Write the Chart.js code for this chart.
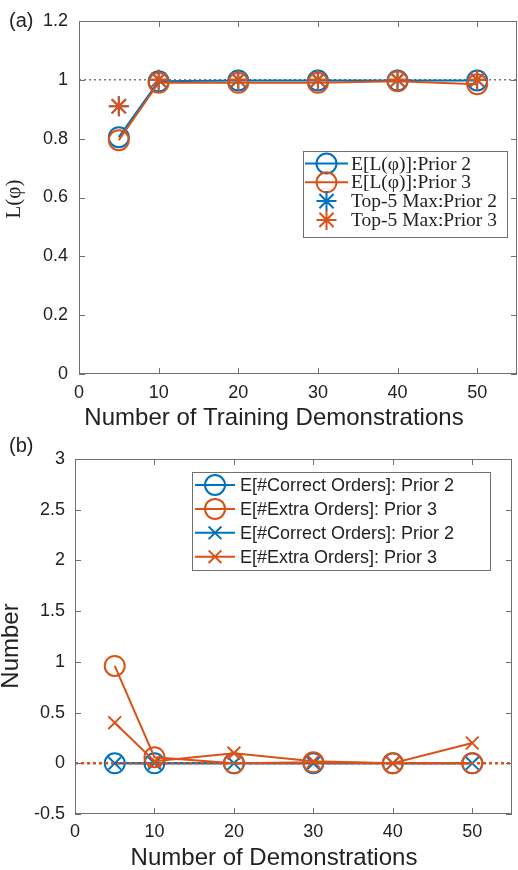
<!DOCTYPE html>
<html>
<head>
<meta charset="utf-8">
<script src="https://cdn.jsdelivr.net/npm/chart.js@4.4.0/dist/chart.umd.min.js"></script>
<style>
  body { margin: 0; width: 518px; height: 870px; background: #fff; overflow: hidden; position: relative; }
  canvas { position: absolute; left: 0; }
</style>
</head>
<body>
<canvas id="chartA" width="518" height="430" style="top:0"></canvas>
<canvas id="chartB" width="518" height="440" style="top:430px"></canvas>
<script>
// Panel (a) data
const demosA = [5, 10, 20, 30, 40, 50];
const expPrior2 = [0.805, 0.995, 0.998, 0.998, 0.998, 0.998];
const expPrior3 = [0.795, 0.99, 0.99, 0.99, 0.995, 0.985];
const top5Prior2 = [0.91, 1, 1, 1, 1, 1];
const top5Prior3 = [0.91, 1, 1, 1, 1, 1];
const refLevelA = 1;
const xTicksA = [0, 10, 20, 30, 40, 50];
const yTicksA = [0, 0.2, 0.4, 0.6, 0.8, 1, 1.2];

// Panel (b) data
const demosB = [5, 10, 20, 30, 40, 50];
const correctCircPrior2 = [0, 0, 0, 0, 0, 0];
const extraCircPrior3 = [0.96, 0.06, 0, 0.01, 0, 0];
const correctCrossPrior2 = [0, 0, 0, 0, 0, 0];
const extraCrossPrior3 = [0.40, 0.02, 0.10, 0.02, 0, 0.20];
const refLevelB = 0;
const xTicksB = [0, 10, 20, 30, 40, 50];
const yTicksB = [-0.5, 0, 0.5, 1, 1.5, 2, 2.5, 3];

const BLUE = '#0072BD';
const ORANGE = '#D95319';
const TEXT = '#222222';
const AXIS = '#707070';
const SANS = "'Liberation Sans', Arial, sans-serif";
const SERIF = "'Liberation Serif', 'DejaVu Serif', serif";

const toPts = (xs, ys) => xs.map((x, i) => ({ x: x, y: ys[i] }));

// draw a marker the way the chart does (legend use)
function drawMarker(ctx, style, r, x, y) {
  ctx.beginPath();
  if (style === 'circle') {
    ctx.arc(x, y, r, 0, Math.PI * 2);
  } else {
    const d = r * Math.SQRT1_2;
    if (style === 'star') {
      ctx.moveTo(x - r, y); ctx.lineTo(x + r, y);
      ctx.moveTo(x, y - r); ctx.lineTo(x, y + r);
    }
    ctx.moveTo(x - d, y - d); ctx.lineTo(x + d, y + d);
    ctx.moveTo(x - d, y + d); ctx.lineTo(x + d, y - d);
  }
  ctx.stroke();
}

// box, inward ticks, axis titles, panel label and legend
const framePlugin = {
  id: 'frame',
  afterDatasetsDraw(chart, args, opts) {
    const { ctx, chartArea: a } = chart;
    const xs = chart.scales.x, ys = chart.scales.y;
    ctx.save();
    ctx.strokeStyle = AXIS;
    ctx.lineWidth = 1;
    ctx.strokeRect(a.left + 0.5, a.top + 0.5, a.right - a.left - 1, a.bottom - a.top - 1);
    ctx.beginPath();
    xs.ticks.forEach(t => {
      const px = Math.round(xs.getPixelForValue(t.value)) + 0.5;
      ctx.moveTo(px, a.bottom); ctx.lineTo(px, a.bottom - 6);
      ctx.moveTo(px, a.top); ctx.lineTo(px, a.top + 6);
    });
    ys.ticks.forEach(t => {
      const py = Math.round(ys.getPixelForValue(t.value)) + 0.5;
      ctx.moveTo(a.left, py); ctx.lineTo(a.left + 6, py);
      ctx.moveTo(a.right, py); ctx.lineTo(a.right - 6, py);
    });
    ctx.stroke();

    ctx.fillStyle = TEXT;
    ctx.textBaseline = 'middle';
    ctx.textAlign = 'left';
    ctx.font = '20px ' + SANS;
    ctx.fillText(opts.label, opts.labelX, opts.labelY);

    // axis titles
    ctx.textAlign = 'center';
    ctx.font = '24px ' + SANS;
    ctx.fillText(opts.xTitle, opts.xTitleX, opts.xTitleY);
    ctx.save();
    ctx.translate(opts.yTitleX, opts.yTitleY);
    ctx.rotate(-Math.PI / 2);
    ctx.font = opts.yTitleFont;
    ctx.fillText(opts.yTitle, 0, 0);
    ctx.restore();

    const lg = opts.legend;
    ctx.textAlign = 'left';
    ctx.fillStyle = '#fff';
    ctx.fillRect(lg.x, lg.y, lg.w, lg.h);
    ctx.strokeStyle = AXIS;
    ctx.strokeRect(lg.x + 0.5, lg.y + 0.5, lg.w, lg.h);
    lg.items.forEach((di, i) => {
      const ds = chart.data.datasets[di];
      const ry = lg.rowY + i * lg.rowGap;
      ctx.strokeStyle = ds.borderColor;
      ctx.lineWidth = 2;
      if (ds.showLine) {
        ctx.beginPath();
        ctx.moveTo(lg.lineX1, ry); ctx.lineTo(lg.lineX2, ry);
        ctx.stroke();
      }
      drawMarker(ctx, ds.pointStyle, ds.pointRadius, (lg.lineX1 + lg.lineX2) / 2, ry);
      ctx.fillStyle = TEXT;
      ctx.font = lg.font;
      ctx.fillText(ds.label, lg.textX, ry + 1);
    });
    ctx.restore();
  }
};

function makeAxes(xTicks, yTicks, cfg) {
  return {
    x: {
      type: 'linear', min: 0, max: 55,
      afterBuildTicks: s => { s.ticks = xTicks.map(v => ({ value: v })); },
      afterFit: s => { s.height = cfg.xHeight; s.paddingLeft = 0; s.paddingRight = 0; },
      grid: { display: false, drawTicks: false },
      border: { display: false },
      ticks: { font: { family: SANS, size: 18 }, color: TEXT, padding: cfg.xPad, maxRotation: 0, autoSkip: false,
        callback: v => String(v) }
    },
    y: {
      type: 'linear', min: yTicks[0], max: yTicks[yTicks.length - 1],
      afterBuildTicks: s => { s.ticks = yTicks.map(v => ({ value: v })); },
      afterFit: s => { s.width = cfg.yWidth; s.paddingTop = 0; s.paddingBottom = 0; },
      grid: { display: false, drawTicks: false },
      border: { display: false },
      ticks: { font: { family: SANS, size: 18 }, color: TEXT, padding: cfg.yPad, autoSkip: false,
        callback: v => String(v) }
    }
  };
}

const lineSet = (label, xs, ys, color, style, radius, showLine, order) => ({
  label: label,
  data: toPts(xs, ys),
  borderColor: color,
  backgroundColor: 'rgba(0,0,0,0)',
  pointStyle: style,
  pointRadius: radius,
  pointBorderWidth: 2,
  pointBackgroundColor: 'rgba(0,0,0,0)',
  borderWidth: 2,
  showLine: showLine,
  order: order
});

const refSet = (level, color, width, dash, order) => ({
  label: 'ref',
  data: [{ x: 0, y: level }, { x: 55, y: level }],
  borderColor: color,
  borderWidth: width,
  borderDash: dash,
  pointRadius: 0,
  showLine: true,
  order: order
});

new Chart(document.getElementById('chartA'), {
  type: 'scatter',
  data: {
    datasets: [
      lineSet('E[L(φ)]:Prior 2', demosA, expPrior2, BLUE, 'circle', 10, true, 4),
      lineSet('E[L(φ)]:Prior 3', demosA, expPrior3, ORANGE, 'circle', 10, true, 3),
      lineSet('Top-5 Max:Prior 2', demosA, top5Prior2, BLUE, 'star', 10, false, 2),
      lineSet('Top-5 Max:Prior 3', demosA, top5Prior3, ORANGE, 'star', 10, false, 1),
      refSet(refLevelA, '#333', 1, [2, 3], 5)
    ]
  },
  options: {
    responsive: false,
    animation: false,
    layout: { autoPadding: false, padding: { top: 21, right: 1, left: 0, bottom: 0 } },
    scales: makeAxes(xTicksA, yTicksA, { xHeight: 56, xPad: 8, yWidth: 79, yPad: 11 }),
    plugins: {
      legend: { display: false },
      tooltip: { enabled: false },
      frame: {
        label: '(a)', labelX: 9, labelY: 21,
        xTitle: 'Number of Training Demonstrations', xTitleX: 274, xTitleY: 418,
        yTitle: 'L(φ)', yTitleX: 14, yTitleY: 199, yTitleFont: '21px ' + SERIF,
        legend: {
          x: 303, y: 151, w: 204, h: 86, items: [0, 1, 2, 3],
          rowY: 163.5, rowGap: 18.8, lineX1: 305, lineX2: 348, textX: 351,
          font: '19.5px ' + SERIF
        }
      }
    }
  },
  plugins: [framePlugin]
});

new Chart(document.getElementById('chartB'), {
  type: 'scatter',
  data: {
    datasets: [
      lineSet('E[#Correct Orders]: Prior 2', demosB, correctCircPrior2, BLUE, 'circle', 10, true, 6),
      lineSet('E[#Extra Orders]: Prior 3', demosB, extraCircPrior3, ORANGE, 'circle', 10, true, 3),
      lineSet('E[#Correct Orders]: Prior 2', demosB, correctCrossPrior2, BLUE, 'crossRot', 9, true, 5),
      lineSet('E[#Extra Orders]: Prior 3', demosB, extraCrossPrior3, ORANGE, 'crossRot', 9, true, 2),
      refSet(refLevelB, ORANGE, 2.5, [3, 3], 4)
    ]
  },
  options: {
    responsive: false,
    animation: false,
    layout: { autoPadding: false, padding: { top: 29, right: 6, left: 0, bottom: 0 } },
    scales: makeAxes(xTicksB, yTicksB, { xHeight: 56, xPad: 7, yWidth: 75, yPad: 10 }),
    plugins: {
      legend: { display: false },
      tooltip: { enabled: false },
      frame: {
        label: '(b)', labelX: 9, labelY: 16,
        xTitle: 'Number of Demonstrations', xTitleX: 274, xTitleY: 428,
        yTitle: 'Number', yTitleX: 11, yTitleY: 216, yTitleFont: '24px ' + SANS,
        legend: {
          x: 192, y: 42, w: 298, h: 98, items: [0, 1, 2, 3],
          rowY: 55, rowGap: 23.9, lineX1: 195, lineX2: 235, textX: 240,
          font: '18px ' + SANS
        }
      }
    }
  },
  plugins: [framePlugin]
});
</script>
</body>
</html>
